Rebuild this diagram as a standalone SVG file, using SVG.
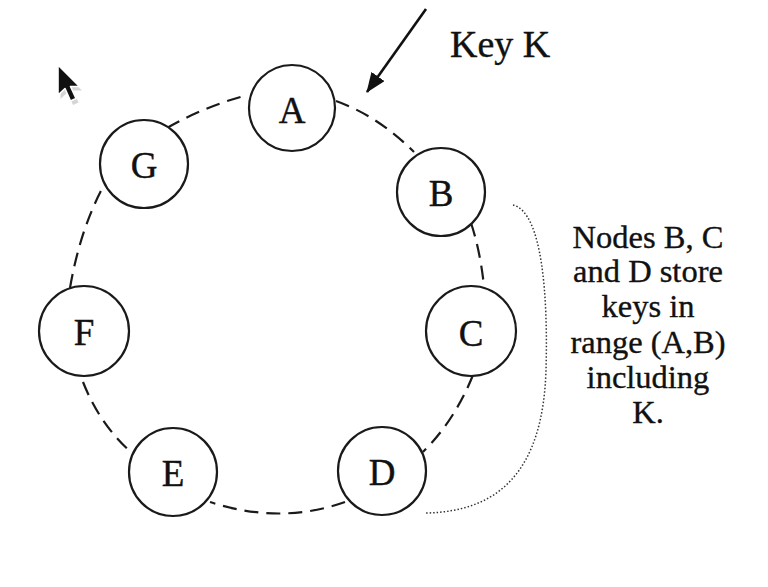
<svg xmlns="http://www.w3.org/2000/svg" width="768" height="587" viewBox="0 0 768 587">
  <defs>
    <style>
      .node circle { fill: #ffffff; stroke: #1a1a1a; stroke-width: 2.2; }
      .node text { font-family: "Liberation Serif", "Times New Roman", serif; font-size: 37px; fill: #111; stroke: #111; stroke-width: 0.4; text-anchor: middle; }
      .ring { fill: none; stroke: #1a1a1a; stroke-width: 2.2; stroke-dasharray: 14 8; }
      .note { font-family: "Liberation Serif", "Times New Roman", serif; font-size: 32.5px; fill: #111; stroke: #111; stroke-width: 0.35; text-anchor: middle; }
      .label { font-family: "Liberation Serif", "Times New Roman", serif; font-size: 38px; fill: #111; stroke: #111; stroke-width: 0.4; }
    </style>
    <marker id="arrowhead" viewBox="0 0 20 16" refX="19" refY="8" markerWidth="20" markerHeight="16" orient="auto" markerUnits="userSpaceOnUse">
      <path d="M0,0 L20,8 L0,16 z" fill="#111"/>
    </marker>
  </defs>

  <rect width="768" height="587" fill="#ffffff"/>

  <!-- mouse pointer -->
  <g id="pointer">
    <path d="M59,67 L59,97 L66,90.5 L71.5,103 L77,100.5 L71.5,88.5 L80.5,88.5 Z" fill="#888" opacity="0.35" transform="translate(1.5,2)"/>
    <path d="M58,65 L58,95 L65,88.5 L70.5,101 L76,98.5 L70.5,86.5 L79.5,86.5 Z" fill="#111" stroke="#ffffff" stroke-width="1.6" stroke-linejoin="round"/>
  </g>

  <!-- ring connectors -->
  <g id="connectors">
    <path class="ring" d="M167,128 Q205,106 248,95"/>
    <path class="ring" d="M336,101 Q378,116 414,152"/>
    <path class="ring" d="M471,223 Q480,250 484,286"/>
    <path class="ring" d="M473,375 Q455,420 423,452"/>
    <path class="ring" d="M345,502 Q280,525 210,502"/>
    <path class="ring" d="M83,382 Q100,425 132,453"/>
    <path class="ring" d="M70,288 Q80,230 103,187"/>
    <!-- incoming key arrow -->
    <path d="M426,9 L367,92" fill="none" stroke="#111" stroke-width="2.6" marker-end="url(#arrowhead)"/>
    <!-- bracket around B, C, D -->
    <path d="M513,205 C543,212 548,300 546,370 C543,470 500,512 425,513" fill="none" stroke="#333" stroke-width="1.5" stroke-dasharray="1.5 2"/>
  </g>

  <g id="node-A" class="node">
    <circle cx="292" cy="108" r="43"/>
    <text x="292" y="123">A</text>
  </g>
  <g id="node-B" class="node">
    <circle cx="441" cy="192" r="44"/>
    <text x="441" y="206">B</text>
  </g>
  <g id="node-C" class="node">
    <circle cx="471" cy="331" r="45"/>
    <text x="471" y="346">C</text>
  </g>
  <g id="node-D" class="node">
    <circle cx="382" cy="471" r="44"/>
    <text x="382" y="485">D</text>
  </g>
  <g id="node-E" class="node">
    <circle cx="173" cy="472" r="44"/>
    <text x="173" y="486">E</text>
  </g>
  <g id="node-F" class="node">
    <circle cx="84" cy="331" r="45"/>
    <text x="84" y="345">F</text>
  </g>
  <g id="node-G" class="node">
    <circle cx="144" cy="164" r="44"/>
    <text x="144" y="178">G</text>
  </g>

  <text class="label" x="450" y="57">Key K</text>

  <g id="note">
    <text class="note" x="648" y="248">Nodes B, C</text>
    <text class="note" x="648" y="282">and D store</text>
    <text class="note" x="648" y="317">keys in</text>
    <text class="note" x="648" y="353">range (A,B)</text>
    <text class="note" x="648" y="388">including</text>
    <text class="note" x="648" y="423">K.</text>
  </g>
</svg>
